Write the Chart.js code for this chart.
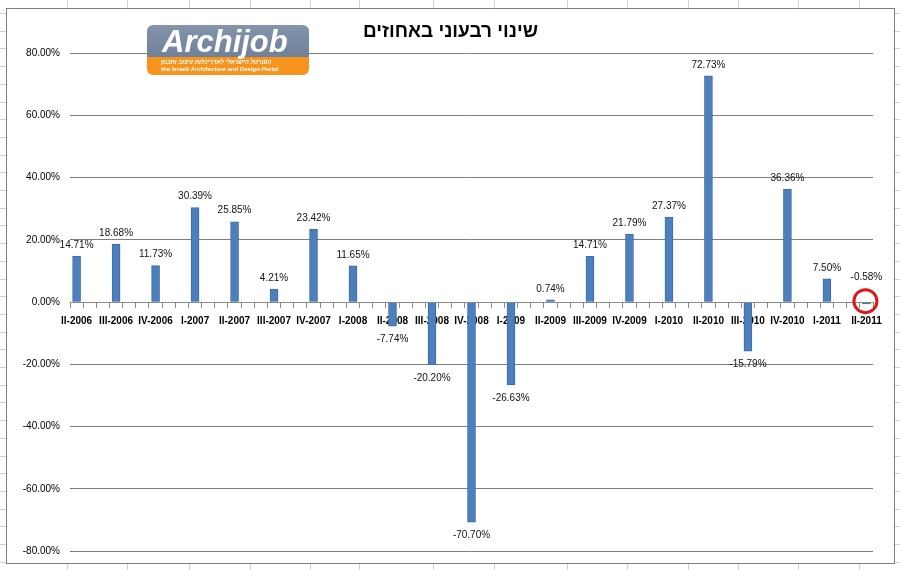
<!DOCTYPE html>
<html>
<head>
<meta charset="utf-8">
<script src="https://cdn.jsdelivr.net/npm/chart.js@4/dist/chart.umd.min.js"></script>
<style>
body{margin:0;width:900px;height:570px;overflow:hidden;position:relative;background-color:#fff;
  background-image:repeating-linear-gradient(180deg,transparent 0,transparent 13px,#c8d4e4 13px,#c8d4e4 14px,transparent 14px,transparent 17.7px);}
.col{position:absolute;top:0;width:1px;height:570px;background:#c8d4e4;}
#wrap{position:absolute;left:6px;top:8px;width:889px;height:556px;box-sizing:border-box;border:1px solid #7f7f7f;background:#fff;}
#wrap canvas{display:block;}
#logo{position:absolute;left:147px;top:25px;width:162px;height:50px;border-radius:6px;overflow:hidden;z-index:5;font-family:"Liberation Sans",Arial,sans-serif;}
#logo .top{height:32px;background:linear-gradient(180deg,#8394ab,#6f8299);color:#fff;font-weight:bold;font-style:italic;font-size:31px;line-height:34px;padding-left:15px;}
#logo .bot{height:18px;background:#f7941d;color:#fff;font-weight:bold;font-style:italic;font-size:6px;line-height:6.5px;padding:2px 14px 0 14px;}
#logo .bot div{white-space:nowrap;}
</style>
</head>
<body>
<div id="wrap"><canvas id="rateChart" width="887" height="554"></canvas></div>
<div id="logo">
  <div class="top">Archijob</div>
  <div class="bot"><div dir="rtl" style="text-align:left">הפורטל הישראלי לאדריכלות עיצוב ותכנון</div><div>the Israeli Architecture and Design Portal</div></div>
</div>
<script>
var quarters = ['II-2006','III-2006','IV-2006','I-2007','II-2007','III-2007','IV-2007','I-2008','II-2008','III-2008','IV-2008',
  'I-2009','II-2009','III-2009','IV-2009','I-2010','II-2010','III-2010','IV-2010','I-2011','II-2011'];
var changePct = [14.71,18.68,11.73,30.39,25.85,4.21,23.42,11.65,-7.74,-20.20,-70.70,
  -26.63,0.74,14.71,21.79,27.37,72.73,-15.79,36.36,7.50,-0.58];
var yTicks = [-80,-60,-40,-20,0,20,40,60,80];
var chartTitle = 'שינוי רבעוני באחוזים';

// spreadsheet columns behind the chart
[67,127,189,250,310,359,433,494,567,627,688,738,798,859].forEach(function(x){
  var d = document.createElement('div'); d.className = 'col'; d.style.left = x + 'px';
  document.body.insertBefore(d, document.body.firstChild);
});

// the axis is monthly, one bar every third slot
var monthLabels = [], monthData = [];
for (var i = 0; i < quarters.length; i++) {
  monthLabels.push(quarters[i]); monthData.push(changePct[i]);
  if (i < quarters.length - 1) { monthLabels.push('', ''); monthData.push(null, null); }
}

var valueLabels = {
  id: 'valueLabels',
  afterDatasetsDraw: function(chart) {
    var ctx = chart.ctx, meta = chart.getDatasetMeta(0), zero = chart.scales.y.getPixelForValue(0);
    ctx.save();
    ctx.font = '10px "Liberation Sans", Arial, sans-serif';
    ctx.fillStyle = '#111';
    ctx.textAlign = 'center';
    ctx.textBaseline = 'middle';
    meta.data.forEach(function(bar, k) {
      var v = monthData[k];
      if (v === null) return;
      var y = v >= 0 ? bar.y - 11 : bar.y + 13;
      if (v < 0 && v > -1) y = zero - 25;
      ctx.fillText(v.toFixed(2) + '%', bar.x, y);
    });
    ctx.restore();
  }
};

var redCircle = {
  id: 'redCircle',
  afterDraw: function(chart) {
    var meta = chart.getDatasetMeta(0), bar = meta.data[meta.data.length - 1];
    var ctx = chart.ctx;
    ctx.save();
    ctx.beginPath();
    ctx.arc(bar.x - 1, chart.scales.y.getPixelForValue(0) - 1, 11.5, 0, Math.PI * 2);
    ctx.lineWidth = 3;
    ctx.strokeStyle = '#e0161b';
    ctx.stroke();
    ctx.restore();
  }
};

var rateChart = new Chart(document.getElementById('rateChart'), {
  type: 'bar',
  data: {
    labels: monthLabels,
    datasets: [{
      label: chartTitle,
      data: monthData,
      backgroundColor: '#4c7fbc',
      borderColor: '#3d6ca6',
      borderWidth: 1,
      barThickness: 8
    }]
  },
  options: {
    responsive: false,
    animation: false,
    layout: { padding: { left: 0, right: 0, top: 0, bottom: 12 } },
    plugins: {
      legend: { display: false },
      tooltip: { enabled: false },
      title: {
        display: true,
        text: chartTitle,
        color: '#000',
        font: { family: '"Liberation Sans", Arial, sans-serif', size: 19, weight: 'bold' },
        padding: { top: 11, bottom: 10.5 }
      }
    },
    scales: {
      x: {
        position: { y: 0 },
        offset: true,
        grid: { offset: true, drawOnChartArea: false, drawTicks: true, tickLength: 5, color: '#8c8c8c' },
        border: { display: true, color: '#8c8c8c' },
        ticks: {
          autoSkip: false, maxRotation: 0, minRotation: 0, padding: 8, color: '#000',
          font: { family: '"Liberation Sans", Arial, sans-serif', size: 10, weight: 'bold' }
        }
      },
      y: {
        min: -80, max: 80,
        afterBuildTicks: function(scale) { scale.ticks = yTicks.map(function(v){ return { value: v }; }); },
        afterFit: function(scale) { scale.width = 63; scale.paddingTop = 0; scale.paddingBottom = 0; },
        grid: { color: '#7f7f7f', drawTicks: false },
        border: { display: false },
        ticks: {
          padding: 10, color: '#000',
          font: { family: '"Liberation Sans", Arial, sans-serif', size: 10 },
          callback: function(v) { return v.toFixed(2) + '%'; }
        }
      },
      // empty right margin, keeps the title centred on the whole chart
      yRight: {
        position: 'right',
        min: -80, max: 80,
        afterFit: function(scale) { scale.width = 21; scale.paddingTop = 0; scale.paddingBottom = 0; },
        grid: { drawOnChartArea: false, drawTicks: false },
        border: { display: false },
        ticks: { display: false }
      }
    }
  },
  plugins: [valueLabels, redCircle]
});
</script>
</body>
</html>
